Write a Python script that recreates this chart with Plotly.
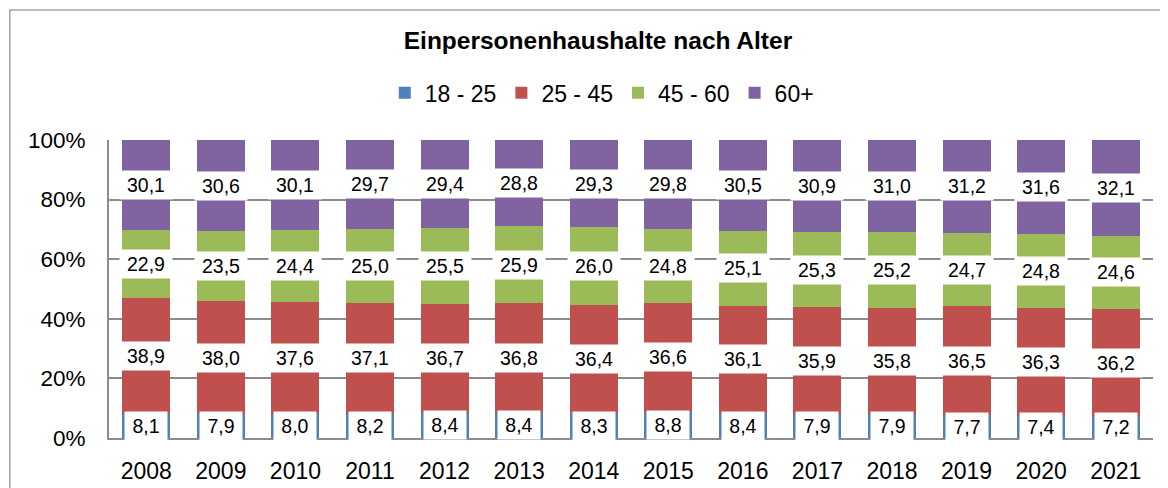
import plotly.graph_objects as go

years = ["2008", "2009", "2010", "2011", "2012", "2013", "2014",
         "2015", "2016", "2017", "2018", "2019", "2020", "2021"]
age_18_25 = [8.1, 7.9, 8.0, 8.2, 8.4, 8.4, 8.3, 8.8, 8.4, 7.9, 7.9, 7.7, 7.4, 7.2]
age_25_45 = [38.9, 38.0, 37.6, 37.1, 36.7, 36.8, 36.4, 36.6, 36.1, 35.9, 35.8, 36.5, 36.3, 36.2]
age_45_60 = [22.9, 23.5, 24.4, 25.0, 25.5, 25.9, 26.0, 24.8, 25.1, 25.3, 25.2, 24.7, 24.8, 24.6]
age_60p = [30.1, 30.6, 30.1, 29.7, 29.4, 28.8, 29.3, 29.8, 30.5, 30.9, 31.0, 31.2, 31.6, 32.1]

series_names = ["18 - 25", "25 - 45", "45 - 60", "60+"]
series_values = [age_18_25, age_25_45, age_45_60, age_60p]
colors = ["#4F81BD", "#C0504D", "#9BBB59", "#8064A2"]

y_ticks = [0, 20, 40, 60, 80, 100]
y_tick_labels = ["0%", "20%", "40%", "60%", "80%", "100%"]

FONT = "Liberation Sans, Arial, sans-serif"

fig = go.Figure()
for name, vals, col in zip(series_names, series_values, colors):
    fig.add_trace(go.Bar(
        x=years, y=vals, name=name,
        marker=dict(color=col, line=dict(width=0)),
        hoverinfo="x+y+name",
    ))

# data labels in white boxes, centred on each segment
annotations = []
totals = [sum(s[i] for s in series_values) for i in range(len(years))]
for i, yr in enumerate(years):
    cum = 0.0
    for vals in series_values:
        v = vals[i]
        centre = (cum + v / 2) / totals[i] * 100
        cum += v
        label = f"{v:.1f}".replace(".", ",")
        annotations.append(dict(
            x=i, y=centre, xref="x", yref="y", text=label, showarrow=False,
            font=dict(family=FONT, size=19.5, color="#000000"),
            bgcolor="#FFFFFF", borderpad=3,
            width=46 if len(label) > 3 else 36,
        ))

# the page body adds an 8px margin, so the figure is 8px smaller than the window
fig.update_layout(
    width=1160, height=480,
    margin=dict(l=101, r=15, t=132, b=50, autoexpand=False),
    paper_bgcolor="#FFFFFF", plot_bgcolor="#FFFFFF",
    barmode="stack", barnorm="percent", bargap=0.356,
    font=dict(family=FONT, color="#000000"),
    title=dict(
        text="<b>Einpersonenhaushalte nach Alter</b>",
        x=0.5086, xanchor="center", y=0.933, yanchor="middle",
        font=dict(family=FONT, size=24.5, color="#000000"),
    ),
    legend=dict(
        orientation="h", x=0.472, xanchor="center", y=1.158, yanchor="middle",
        font=dict(family=FONT, size=23, color="#000000"),
        traceorder="normal", itemclick=False,
    ),
    annotations=annotations,
    shapes=[dict(
        type="rect", xref="paper", yref="paper",
        x0=-0.095, x1=1.05, y0=-0.3, y1=1.436,
        line=dict(color="#A6A6A6", width=1.5), fillcolor="rgba(0,0,0,0)",
        layer="below",
    )],
    xaxis=dict(
        type="category",
        showgrid=False, showline=True, linecolor="#8C8C8C", linewidth=2,
        ticks="", tickfont=dict(family=FONT, size=23, color="#000000"),
        ticklabelstandoff=11,
    ),
    yaxis=dict(
        range=[0, 100], tickmode="array", tickvals=y_ticks, ticktext=y_tick_labels,
        showgrid=True, gridcolor="#8C8C8C", gridwidth=1.5,
        showline=True, linecolor="#8C8C8C", linewidth=2,
        zeroline=False, ticks="",
        tickfont=dict(family=FONT, size=22.5, color="#000000"),
        ticklabelstandoff=17,
    ),
)

fig.write_html("out.html")
